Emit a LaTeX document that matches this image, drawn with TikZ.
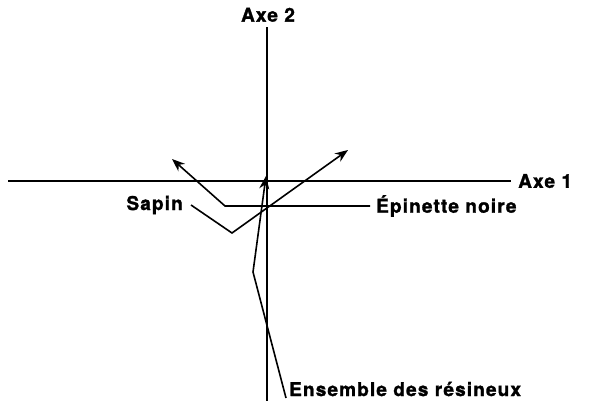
\documentclass[tikz,border=0pt]{standalone}
\usepackage{fontspec}
\setmainfont{TeX Gyre Heros}[LetterSpace=6, BoldFeatures={FakeBold=1.5}]
\usetikzlibrary{arrows.meta, positioning}

\begin{document}
\begin{tikzpicture}[
  x=1pt, y=-1pt,
  axis/.style={line width=2.8pt},
  lead/.style={line width=1.6pt},
  arrow/.style={lead, -{Stealth[length=13pt, width=10pt]}},
  lbl/.style={inner sep=0pt, font=\fontsize{19}{22}\selectfont\bfseries}
]
\useasboundingbox (0,0) rectangle (612,407);

% ---- Axes ----
\coordinate (h_left)  at (8,181);
\coordinate (h_right) at (511,181);
\coordinate (v_top)   at (267,27);
\coordinate (v_bot)   at (267,401);
\draw[axis] (h_left) -- (h_right);
\draw[axis] (v_top)  -- (v_bot);

\node[lbl, anchor=west]  (axe1) at (518,181) {Axe 1};
\node[lbl, anchor=south] (axe2) at (268,22)  {Axe 2};

% ---- Sapin ----
\node[lbl, anchor=east] (sapin) at (183,205) {Sapin};
\coordinate (sapin_bend) at (232,233);
\coordinate (sapin_tip)  at (348,150);
\draw[arrow] ([xshift=8pt]sapin.east) -- (sapin_bend) -- (sapin_tip);

% ---- Epinette noire ----
\node[lbl, anchor=west] (epinette) at (376,206) {Épinette noire};
\coordinate (epi_bend) at (225,206);
\coordinate (epi_tip)  at (172,159);
\draw[arrow] ([xshift=-6pt]epinette.west) -- (epi_bend) -- (epi_tip);

% ---- Ensemble des resineux ----
\node[lbl, anchor=west] (ensemble) at (289,389) {Ensemble des résineux};
\coordinate (ens_start) at (286,398);
\coordinate (ens_bend)  at (253,272);
\coordinate (ens_tip)   at (266,176);
\draw[arrow] (ens_start) -- (ens_bend) -- (ens_tip);

\end{tikzpicture}
\end{document}
